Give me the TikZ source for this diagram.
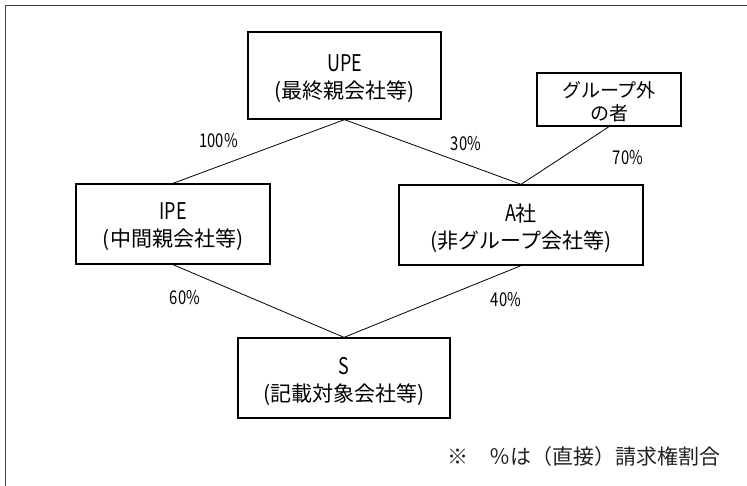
\documentclass[tikz,border=0pt]{standalone}
\usepackage{fontspec}
\setmainfont{Noto Sans CJK JP}
\newfontfamily\jpfont{Noto Sans CJK JP}
\newfontfamily\condfont[FakeStretch=0.78]{Noto Sans CJK JP}
\definecolor{framegray}{HTML}{404040}
\definecolor{notegray}{HTML}{222222}
\tikzset{
  boxshape/.style={draw, line width=1.3pt, rectangle, inner sep=0pt},
  boxtext/.style={inner sep=0pt, align=center, font=\jpfont\fontsize{21}{27}\selectfont},
  smalltext/.style={inner sep=0pt, align=center, font=\jpfont\fontsize{19}{23}\selectfont},
  conn/.style={line width=0.8pt},
  pct/.style={inner sep=0pt, font=\condfont\fontsize{19}{19}\selectfont},
  notestyle/.style={inner sep=0pt, text=notegray, font=\jpfont\fontsize{21}{24}\selectfont},
  frameline/.style={draw=framegray, line width=1.3pt}
}
\newcommand{\lat}[1]{{\condfont\fontsize{23}{27}\selectfont #1}}
\begin{document}
\begin{tikzpicture}[x=1pt,y=-1pt]
\useasboundingbox (0,0) rectangle (747,486);
\coordinate (fbl) at (5.7,487);
\coordinate (ftl) at (5.7,5.7);
\coordinate (ftr) at (748,5.7);
\draw[frameline] (fbl) -- (ftl) -- (ftr);

% boxes
\node[boxshape, minimum width=193pt, minimum height=87pt] (upe) at (344.5,75.5) {};
\node[boxshape, minimum width=144pt, minimum height=53pt] (outside) at (609,99.5) {};
\node[boxshape, minimum width=194pt, minimum height=80pt] (ipe) at (173,224) {};
\node[boxshape, minimum width=244pt, minimum height=80pt] (acorp) at (521,225) {};
\node[boxshape, minimum width=212pt, minimum height=80pt] (s) at (344,378) {};

% texts
\node[boxtext] (upet) at ([yshift=-3pt]upe.center) {\lat{UPE}\\(最終親会社等)};
\node[smalltext] (outsidet) at ([yshift=-2pt]outside.center) {グループ外\\の者};
\node[boxtext] (ipet) at ([yshift=-3pt]ipe.center) {\lat{IPE}\\(中間親会社等)};
\node[boxtext] (acorpt) at ([yshift=-3pt]acorp.center) {\lat{A}社\\(非グループ会社等)};
\node[boxtext] (st) at ([yshift=-3pt]s.center) {\lat{S}\\(記載対象会社等)};

% connectors
\draw[conn] (upe.south) -- (ipe.north);
\draw[conn] (upe.south) -- (acorp.north);
\draw[conn] (outside.south) -- (acorp.north);
\draw[conn] (ipe.south) -- (s.north);
\draw[conn] (acorp.south) -- (s.north);

% percentages
\node[pct] (p100) at (218.5,141) {100\%};
\node[pct] (p30) at (466,143.5) {30\%};
\node[pct] (p70) at (628,158) {70\%};
\node[pct] (p60) at (185,298) {60\%};
\node[pct] (p40) at (506,300) {40\%};

% note
\node[notestyle, anchor=west] (note) at (447,457) {※　％は（直接）請求権割合};
\end{tikzpicture}
\end{document}
